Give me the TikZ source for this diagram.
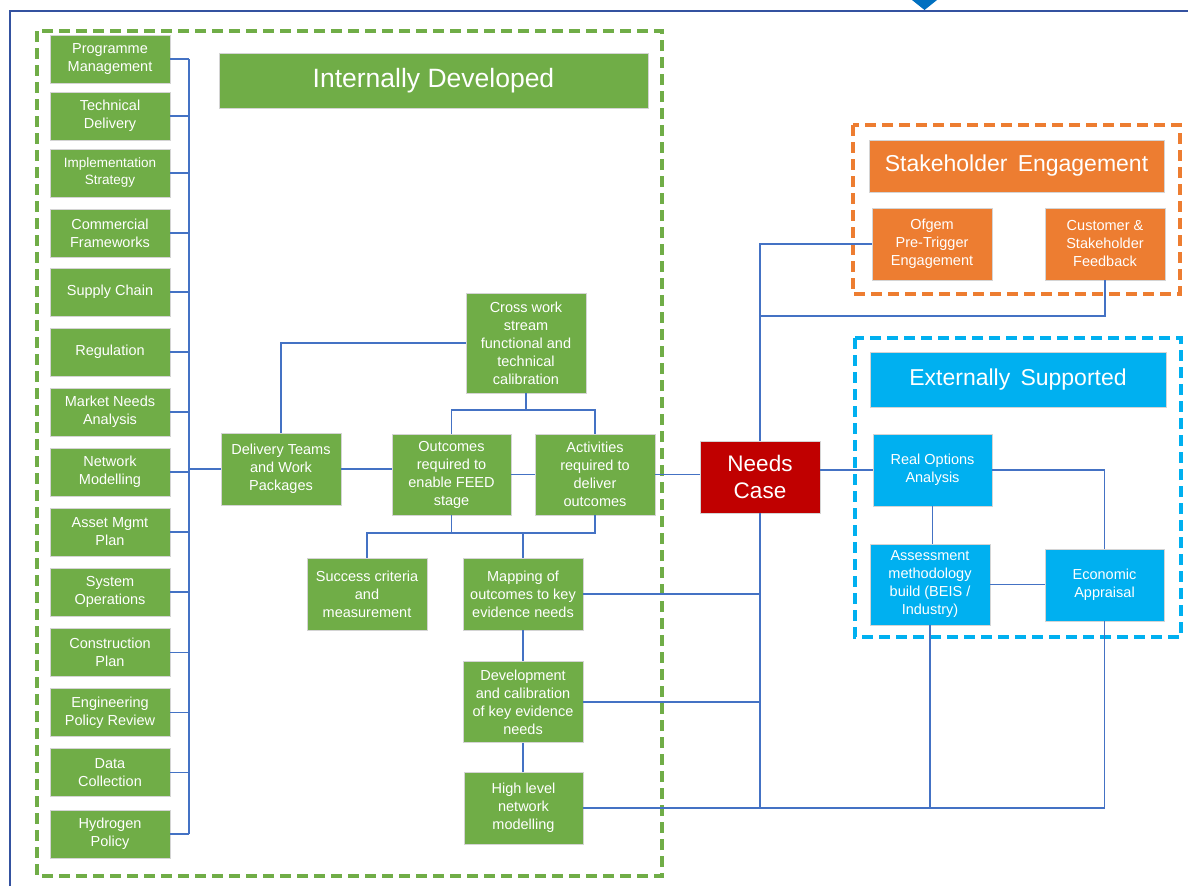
\documentclass[tikz,border=0pt]{standalone}
\usepackage{fontspec}
\setmainfont{Liberation Sans}
\definecolor{gfill}{HTML}{70AD47}
\definecolor{ofill}{HTML}{ED7D31}
\definecolor{bfill}{HTML}{00B0F0}
\definecolor{rfill}{HTML}{C00000}
\definecolor{conn}{HTML}{4472C4}
\definecolor{frame}{HTML}{3452A0}
\definecolor{diam}{HTML}{0070C0}
\definecolor{edge}{HTML}{D4D4D4}
\tikzset{
  base/.style={draw=edge, line width=0.8pt, text=white, align=center, inner sep=0pt,
    font=\fontsize{14.5}{18}\selectfont},
  gbox/.style={base, fill=gfill},
  obox/.style={base, fill=ofill},
  bbox/.style={base, fill=bfill},
  rbox/.style={base, fill=rfill, font=\fontsize{22.5}{27}\selectfont},
  lbox/.style={gbox, minimum width=120pt, minimum height=48pt},
  sz/.style 2 args={minimum width=#1pt, minimum height=#2pt},
  hdr/.style={base, font=\fontsize{23}{28}\selectfont},
  cn/.style={draw=conn, line width=1.3pt},
  dbox/.style={line width=3.6pt, dash pattern=on 11pt off 6pt},
}
\begin{document}
\begin{tikzpicture}[x=1pt,y=-1pt]
\useasboundingbox (0,0) rectangle (1188,886);
% outer frame
\draw[frame, line width=1.5pt] (10,886) -- (10,11) -- (1188,11);
\fill[diam] (912,0) -- (937,0) -- (924.5,10) -- cycle;
% dashed groups
\draw[dbox, gfill] (37,31) rectangle (662,876);
\draw[dbox, ofill] (853,125) rectangle (1180,294);
\draw[dbox, bfill] (855,338) rectangle (1181,637);
% headers
\node[hdr, fill=gfill, sz={429}{55}, font=\fontsize{26.5}{30}\selectfont] (hid) at (433.5,80.5) {Internally Developed};
\node[hdr, fill=ofill, sz={295}{52}] (hse) at (1016.5,166) {Stakeholder\ \,Engagement};
\node[hdr, fill=bfill, sz={296}{55}] (hes) at (1018,379.5) {Externally\ \,Supported};
% left column
\node[lbox] (pm) at (110,59) {Programme\\Management};
\node[lbox] (td) at (110,116) {Technical\\Delivery};
\node[lbox, font=\fontsize{13.5}{17}\selectfont] (is) at (110,173) {Implementation\\Strategy};
\node[lbox] (cf2) at (110,233) {Commercial\\Frameworks};
\node[lbox] (sup) at (110,292) {Supply Chain};
\node[lbox] (reg) at (110,352) {Regulation};
\node[lbox] (mna) at (110,412) {Market Needs\\Analysis};
\node[lbox] (nm) at (110,472) {Network\\Modelling};
\node[lbox] (amp) at (110,532) {Asset Mgmt\\Plan};
\node[lbox] (so) at (110,592) {System\\Operations};
\node[lbox] (cp) at (110,652.5) {Construction\\Plan};
\node[lbox] (epr) at (110,712.5) {Engineering\\Policy Review};
\node[lbox] (dc) at (110,772.5) {Data\\Collection};
\node[lbox] (hp) at (110,834) {Hydrogen\\Policy};
% centre nodes
\node[gbox, sz={120}{72}] (dt) at (281,469) {Delivery Teams\\and Work\\Packages};
\node[gbox, sz={120}{100}] (cw) at (526,343) {Cross work\\stream\\functional and\\technical\\calibration};
\node[gbox, sz={119}{81}] (oc) at (451.5,474.5) {Outcomes\\required to\\enable FEED\\stage};
\node[gbox, sz={120}{81}] (ac) at (595,474.5) {Activities\\required to\\deliver\\outcomes};
\node[gbox, sz={120}{72}] (sc) at (367,594) {Success criteria\\and\\measurement};
\node[gbox, sz={120}{72}] (mp) at (523,594) {Mapping of\\outcomes to key\\evidence needs};
\node[gbox, sz={120}{81}] (dv) at (523,702) {Development\\and calibration\\of key evidence\\needs};
\node[gbox, sz={119}{72}] (hl) at (523.5,808) {High level\\network\\modelling};
\node[rbox, sz={120}{72}] (nc) at (760,477) {Needs\\Case};
% right nodes
\node[obox, sz={120}{72}] (og) at (932,244) {Ofgem\\Pre-Trigger\\Engagement};
\node[obox, sz={120}{72}] (cfb) at (1105,244) {Customer \&\\Stakeholder\\Feedback};
\node[bbox, sz={119}{72}] (ro) at (932.5,470) {Real Options\\Analysis};
\node[bbox, sz={120}{81}] (am) at (930,584.5) {Assessment\\methodology\\build (BEIS /\\Industry)};
\node[bbox, sz={119}{72}] (ea) at (1104.5,585) {Economic\\Appraisal};
% connectors: left bus
\coordinate (busx) at (189,0);
\foreach \n in {pm,td,is,cf2,sup,reg,mna,nm,amp,so,cp,epr,dc,hp}{
  \draw[cn] (\n.east) -- (\n.east -| busx);
}
\draw[cn] (pm.east -| busx) -- (hp.east -| busx);
\draw[cn] (dt.west -| busx) -- (dt.west);
% centre connectors
\draw[cn] (dt.north) |- (cw.west);
\coordinate (j1) at (527,410);
\draw[cn] (cw.south) -- (cw.south |- j1);
\draw[cn] (oc.north) |- (ac.north |- j1) -- (ac.north);
\draw[cn] (dt.east) -- (dt.east -| oc.west);
\draw[cn] (oc.east) -- (oc.east -| ac.west);
\coordinate (j2) at (451,533);
\draw[cn] (oc.south) -- (oc.south |- j2);
\draw[cn] (sc.north) |- (ac.south |- j2) -- (ac.south);
\draw[cn] (mp.north) -- (mp.north |- j2);
\draw[cn] (mp.south) -- (dv.north);
\draw[cn] (dv.south) -- (dv.south |- hl.north);
\draw[cn] (ac.east) -- (ac.east -| nc.west);
% needs case connectors
\draw[cn] (nc.east |- ro.west) -- (ro.west);
\draw[cn] (nc.north) |- (og.west);
\coordinate (j3) at (760,316);
\draw[cn] (nc.north |- og.west) -- (j3) -| (cfb.south);
\draw[cn] (nc.south) -- (nc.south |- hl.east);
\draw[cn] (mp.east) -- (mp.east -| nc.south);
\draw[cn] (dv.east) -- (dv.east -| nc.south);
\draw[cn] (hl.east) -| (ea.south);
\draw[cn] (am.south) -- (am.south |- hl.east);
\draw[cn] (ro.south) -- (ro.south |- am.north);
\draw[cn] (ro.east) -| (ea.north);
\draw[cn] (am.east) -- (am.east -| ea.west);
\end{tikzpicture}
\end{document}
